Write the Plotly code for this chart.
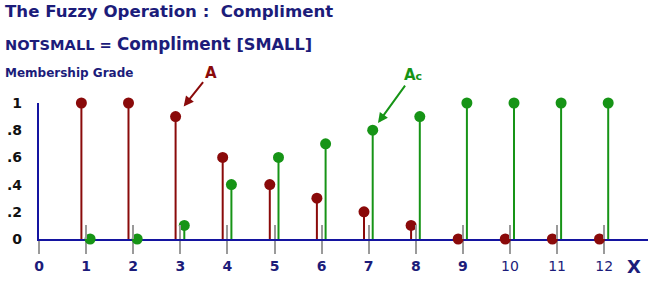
import plotly.graph_objects as go

# ---- data ----
x_vals = [1, 2, 3, 4, 5, 6, 7, 8, 9, 10, 11, 12]
small = [1.0, 1.0, 0.9, 0.6, 0.4, 0.3, 0.2, 0.1, 0.0, 0.0, 0.0, 0.0]      # A
not_small = [0.0, 0.0, 0.1, 0.4, 0.6, 0.7, 0.8, 0.9, 1.0, 1.0, 1.0, 1.0]  # Ac
x_tick_vals = [0, 1, 2, 3, 4, 5, 6, 7, 8, 9, 10, 11, 12]
x_tick_text = ["<b>0</b>", "<b>1</b>", "<b>2</b>", "<b>3</b>", "<b>4</b>", "<b>5</b>",
               "<b>6</b>", "<b>7</b>", "<b>8</b>", "<b>9</b>", "10", "11", "12"]
y_tick_vals = [0, 0.2, 0.4, 0.6, 0.8, 1.0]
y_tick_text = ["<b>0</b>", "<b>.2</b>", "<b>.4</b>", "<b>.6</b>", "<b>.8</b>", "<b>1</b>"]

# ---- styles ----
RED = "#8a0a0a"
GREEN = "#169416"
NAVY = "#1c1c7a"
AXIS = "#1414a0"
FONT = "DejaVu Sans"
RED_OFF = -0.1
GREEN_OFF = 0.085

L = 8.0           # left margin (px)
W = 650.0 - L - 2  # paper width in px
H = 136.0          # plot height in px
X0 = 39.0          # pixel of the y axis line


def px(p):
    return (p - L) / W


def py(p):
    return (239 - p) / H


def stems(xs, ys, off):
    sx, sy = [], []
    for xv, yv in zip(xs, ys):
        sx += [xv + off, xv + off, None]
        sy += [0, yv, None]
    return sx, sy


fig = go.Figure()
for ys, off, col in [(small, RED_OFF, RED), (not_small, GREEN_OFF, GREEN)]:
    sx, sy = stems(x_vals, ys, off)
    fig.add_trace(go.Scatter(x=sx, y=sy, mode="lines", line=dict(color=col, width=2),
                             hoverinfo="skip", showlegend=False, cliponaxis=False))
    fig.add_trace(go.Scatter(x=[v + off for v in x_vals], y=ys, mode="markers",
                             marker=dict(color=col, size=11, line=dict(width=0)),
                             showlegend=False, cliponaxis=False))

x_max = 12.93
fig.update_layout(
    width=650, height=282,
    margin=dict(l=L, r=2, t=103, b=43, pad=0, autoexpand=False),
    paper_bgcolor="white", plot_bgcolor="white",
    font=dict(family=FONT, color=NAVY),
    xaxis=dict(domain=[px(X0), 1], range=[0, x_max], showgrid=False, zeroline=False,
               showline=True, linecolor=AXIS, linewidth=2, tickmode="array",
               tickvals=x_tick_vals, ticktext=x_tick_text, ticks="outside", ticklen=13,
               tickwidth=1.5, tickcolor="#9a9a9a",
               tickfont=dict(size=14, color=NAVY, family=FONT),
               ticklabelstandoff=0, layer="below traces"),
    xaxis2=dict(domain=[px(X0), 1], range=[0, x_max], overlaying="x", anchor="y",
                side="bottom", showgrid=False, zeroline=False, showline=False,
                tickmode="array", tickvals=x_vals, ticks="inside", ticklen=14,
                tickwidth=1.5, tickcolor="#9a9a9a", showticklabels=False,
                layer="above traces"),
    yaxis=dict(range=[0, 1.0], showgrid=False, zeroline=False, showline=True,
               linecolor=AXIS, linewidth=2, showticklabels=False, ticks="",
               layer="below traces"),
    yaxis2=dict(range=[0, 1.0], overlaying="y", anchor="free", position=px(22),
                showgrid=False, zeroline=False, showline=False, tickmode="array",
                tickvals=y_tick_vals, ticktext=y_tick_text, ticks="",
                tickfont=dict(size=14, color="#111111", family=FONT)),
)
# dummy traces to activate the overlay axes
fig.add_trace(go.Scatter(x=[None], y=[None], xaxis="x2", showlegend=False))
fig.add_trace(go.Scatter(x=[None], y=[None], yaxis="y2", showlegend=False))

annots = [
    dict(text="<b>The Fuzzy Operation :\u00a0\u00a0Compliment</b>", x=px(3), y=py(12),
         font=dict(size=16.6, color=NAVY)),
    dict(text="<b><span style='font-size:14.6px'>NOTSMALL = </span>Compliment <span style='font-size:16.2px'>[SMALL]</span></b>",
         x=px(3), y=py(44), font=dict(size=16.8, color=NAVY)),
    dict(text="<b>Membership Grade</b>", x=px(3), y=py(73), font=dict(size=12, color=NAVY)),
]
for a in annots:
    fig.add_annotation(xref="paper", yref="paper", xanchor="left", yanchor="middle",
                       showarrow=False, **a)

fig.add_annotation(xref="paper", yref="paper", x=px(634), y=py(266), text="<b>X</b>",
                   showarrow=False, font=dict(size=18, color=NAVY),
                   xanchor="center", yanchor="middle")

# arrows to data points
fig.add_annotation(x=x_vals[2] + RED_OFF, y=small[2], text="<b>A</b>",
                   font=dict(size=15, color=RED), showarrow=True, arrowhead=2,
                   arrowsize=1, arrowwidth=2, arrowcolor=RED, ax=35, ay=-44, standoff=13)
fig.add_annotation(x=x_vals[6] + GREEN_OFF, y=not_small[6],
                   text="<b>A<span style='font-size:11px'>c</span></b>",
                   font=dict(size=15, color=GREEN), showarrow=True, arrowhead=2,
                   arrowsize=1, arrowwidth=2, arrowcolor=GREEN, ax=40, ay=-55, standoff=9)

fig.write_html("out.html")
